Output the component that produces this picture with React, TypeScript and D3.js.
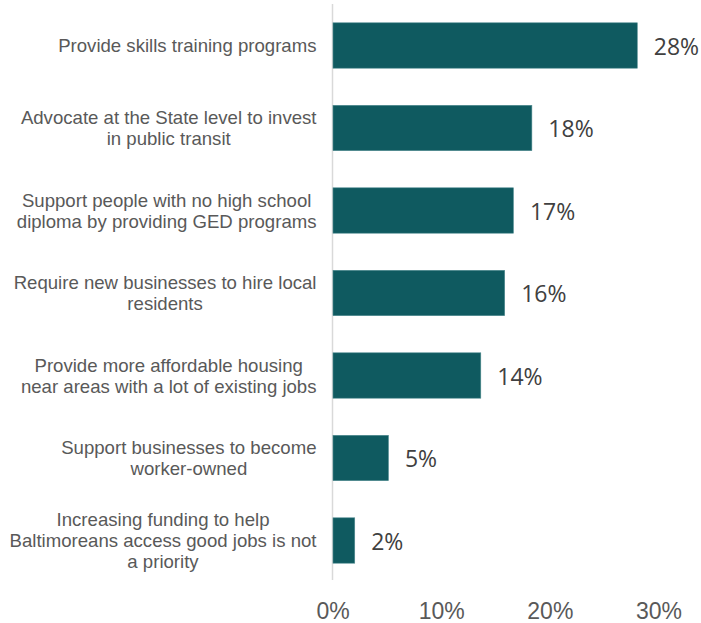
import React, { useEffect, useRef } from "react";
import * as d3 from "d3";

const categories: string[][] = [
  ["Provide skills training programs"],
  ["Advocate at the State level to invest", "in public transit"],
  ["Support people with no high school", "diploma by providing GED programs"],
  ["Require new businesses to hire local", "residents"],
  ["Provide more affordable housing", "near areas with a lot of existing jobs"],
  ["Support businesses to become", "worker-owned"],
  ["Increasing funding to help", "Baltimoreans access good jobs is not", "a priority"],
];
const values: number[] = [28.0, 18.3, 16.6, 15.8, 13.6, 5.1, 2.0];
const ticks: number[] = [0, 10, 20, 30];

const W = 701;
const H = 623;

export default function App() {
  const ref = useRef<SVGSVGElement | null>(null);

  useEffect(() => {
    const svg = d3.select(ref.current);
    svg.selectAll("*").remove();

    const x = d3.scaleLinear().domain([0, 30]).range([333, 659]);
    const y = d3
      .scaleBand<number>()
      .domain(d3.range(categories.length))
      .range([4.25, 581.75])
      .paddingInner(0.45)
      .paddingOuter(0.225);

    // axis line
    svg
      .append("line")
      .attr("x1", 332.5)
      .attr("x2", 332.5)
      .attr("y1", 4)
      .attr("y2", 580)
      .attr("stroke", "#d9d9d9")
      .attr("stroke-width", 1.5);

    // bars
    svg
      .selectAll("rect.bar")
      .data(values)
      .join("rect")
      .attr("class", "bar")
      .attr("x", x(0))
      .attr("y", (_d, i) => y(i)!)
      .attr("width", (d) => x(d) - x(0))
      .attr("height", y.bandwidth())
      .attr("fill", "#0f5a60")
      .attr("stroke", "#4f8a8f")
      .attr("stroke-width", 0.6);

    // value labels
    svg
      .selectAll("text.val")
      .data(values)
      .join("text")
      .attr("class", "val")
      .attr("x", (d) => x(d) + 16.5)
      .attr("y", (_d, i) => y(i)! + y.bandwidth() / 2 + 1)
      .attr("dy", "0.36em")
      .attr("font-family", "'Open Sans', sans-serif")
      .attr("font-size", 23)
      .attr("fill", "#404040")
      .text((d) => `${Math.round(d)}%`);

    // category labels
    const lh = 21;
    const rightEdge = 316.5;
    categories.forEach((lines, i) => {
      const cy = y(i)! + y.bandwidth() / 2;
      const g = svg.append("g");
      const t = g
        .append("text")
        .attr("font-family", "'Liberation Sans', Arial, sans-serif")
        .attr("font-size", 18.6)
        .attr("fill", "#595959")
        .attr("text-anchor", "middle");
      const n = lines.length;
      lines.forEach((ln, k) => {
        t.append("tspan")
          .attr("x", 0)
          .attr("y", cy + (k - (n - 1) / 2) * lh)
          .attr("dy", "0.35em")
          .text(ln);
      });
      let maxW = 0;
      t.selectAll<SVGTSpanElement, unknown>("tspan").each(function () {
        maxW = Math.max(maxW, this.getComputedTextLength());
      });
      g.attr("transform", `translate(${rightEdge - maxW / 2},0)`);
    });

    // tick labels
    svg
      .selectAll("text.tick")
      .data(ticks)
      .join("text")
      .attr("class", "tick")
      .attr("x", (d) => x(d))
      .attr("y", 619)
      .attr("text-anchor", "middle")
      .attr("font-family", "'Liberation Sans', Arial, sans-serif")
      .attr("font-size", 23)
      .attr("fill", "#595959")
      .text((d) => `${d}%`);
  }, []);

  return (
    <svg
      ref={ref}
      width={W}
      height={H}
      style={{ position: "absolute", left: 0, top: 0, background: "#fff" }}
    />
  );
}
